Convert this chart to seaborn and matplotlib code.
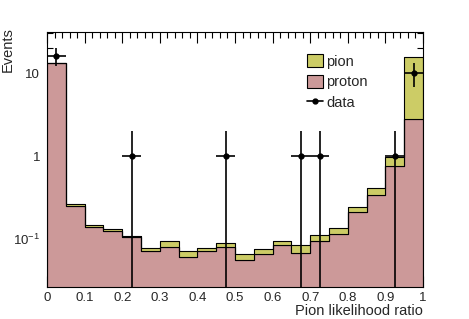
import numpy as np
import pandas as pd
import matplotlib
matplotlib.use("Agg")
import matplotlib.pyplot as plt
from matplotlib.lines import Line2D
from matplotlib.ticker import LogLocator, NullFormatter, FixedLocator, FixedFormatter, MultipleLocator
import seaborn as sns

# 20 bins in [0, 1]
bin_edges = [i * 0.05 for i in range(21)]
bin_centres = [0.025, 0.075, 0.125, 0.175, 0.225, 0.275, 0.325, 0.375, 0.425, 0.475,
               0.525, 0.575, 0.625, 0.675, 0.725, 0.775, 0.825, 0.875, 0.925, 0.975]

# proton expectation (bottom of the stack)
proton = [13.3, 0.25, 0.138, 0.125, 0.106, 0.0717, 0.0801, 0.0612, 0.0717, 0.0794,
          0.0558, 0.066, 0.0839, 0.0672, 0.0954, 0.1148, 0.21, 0.336, 0.755, 2.79]
# pion expectation (stacked on top of protons)
pion = [0.05, 0.016, 0.0095, 0.008, 0.004, 0.0069, 0.0145, 0.0105, 0.0069, 0.0093,
        0.0102, 0.0104, 0.0107, 0.0182, 0.0173, 0.0222, 0.031, 0.072, 0.21, 12.7]

# observed data
data_x = [0.025, 0.225, 0.475, 0.675, 0.725, 0.925, 0.975]
data_y = [16, 1, 1, 1, 1, 1, 10]
data_err = [4.0, 1.0, 1.0, 1.0, 1.0, 1.0, 3.16]

x_labels = ["0", "0.1", "0.2", "0.3", "0.4", "0.5", "0.6", "0.7", "0.8", "0.9", "1"]

col_pion = "#cccc66"
col_proton = "#cc9999"

df = pd.DataFrame({
    "x": bin_centres * 2,
    "w": pion + proton,
    "sample": ["pion"] * 20 + ["proton"] * 20,
})

sns.set_style("ticks")
plt.rcParams["font.family"] = ["Liberation Sans", "DejaVu Sans"]
plt.rcParams["mathtext.fontset"] = "custom"
plt.rcParams["mathtext.rm"] = "Liberation Sans"

fig = plt.figure(figsize=(4.69, 3.19), dpi=100)
ax = fig.add_axes([0.1002, 0.1003, 0.8017, 0.7994])

sns.histplot(
    data=df, x="x", weights="w", hue="sample",
    hue_order=["pion", "proton"],
    palette={"pion": col_pion, "proton": col_proton},
    bins=bin_edges, multiple="stack", element="step",
    alpha=1, edgecolor="black", linewidth=0.8,
    legend=False, ax=ax,
)

# data points with poisson errors
ax.errorbar(data_x, data_y, xerr=0.025, yerr=data_err, fmt="o", color="black",
            markersize=3.5, elinewidth=1.2, capsize=0, zorder=5)

ax.set_yscale("log")
ax.set_xlim(0, 1)
ax.set_ylim(0.0264, 31.2)

ax.xaxis.set_major_locator(FixedLocator([i / 10 for i in range(11)]))
ax.xaxis.set_major_formatter(FixedFormatter(x_labels))
ax.xaxis.set_minor_locator(MultipleLocator(0.02))
ax.yaxis.set_major_locator(FixedLocator([0.1, 1, 10]))
ax.yaxis.set_major_formatter(FixedFormatter([r"$10^{-1}$", "1", "10"]))
ax.yaxis.set_minor_locator(LogLocator(base=10, subs=np.arange(2, 10)))
ax.yaxis.set_minor_formatter(NullFormatter())

ax.tick_params(which="both", direction="in", top=True, right=True, labelsize=9.5,
               color="black", width=0.8)
ax.tick_params(which="major", length=8)
ax.tick_params(which="minor", length=4)
ax.tick_params(axis="x", which="major", pad=3.5)
ax.tick_params(axis="y", which="major", pad=5)
for s in ax.spines.values():
    s.set_linewidth(0.8)
    s.set_color("black")

# axis titles in ROOT style (aligned to the axis ends)
ax.set_xlabel("Pion likelihood ratio", fontsize=10.5, ha="right", va="top")
ax.xaxis.set_label_coords(1.0, -0.068)
ax.set_ylabel("Events", fontsize=10.5, ha="right", va="bottom")
ax.yaxis.set_label_coords(-0.085, 1.02)

handles = [
    plt.Rectangle((0, 0), 1, 1, facecolor=col_pion, edgecolor="black", linewidth=0.8),
    plt.Rectangle((0, 0), 1, 1, facecolor=col_proton, edgecolor="black", linewidth=0.8),
    Line2D([], [], color="black", marker="o", markersize=3.5, linewidth=1.2),
]
ax.legend(handles, ["pion", "proton", "data"], loc="upper left",
          bbox_to_anchor=(0.677, 0.935), frameon=False, fontsize=10.5,
          handlelength=1.1, handleheight=1.0, handletextpad=0.2, labelspacing=0.4,
          borderaxespad=0)

fig.savefig("out.png", dpi=100)
